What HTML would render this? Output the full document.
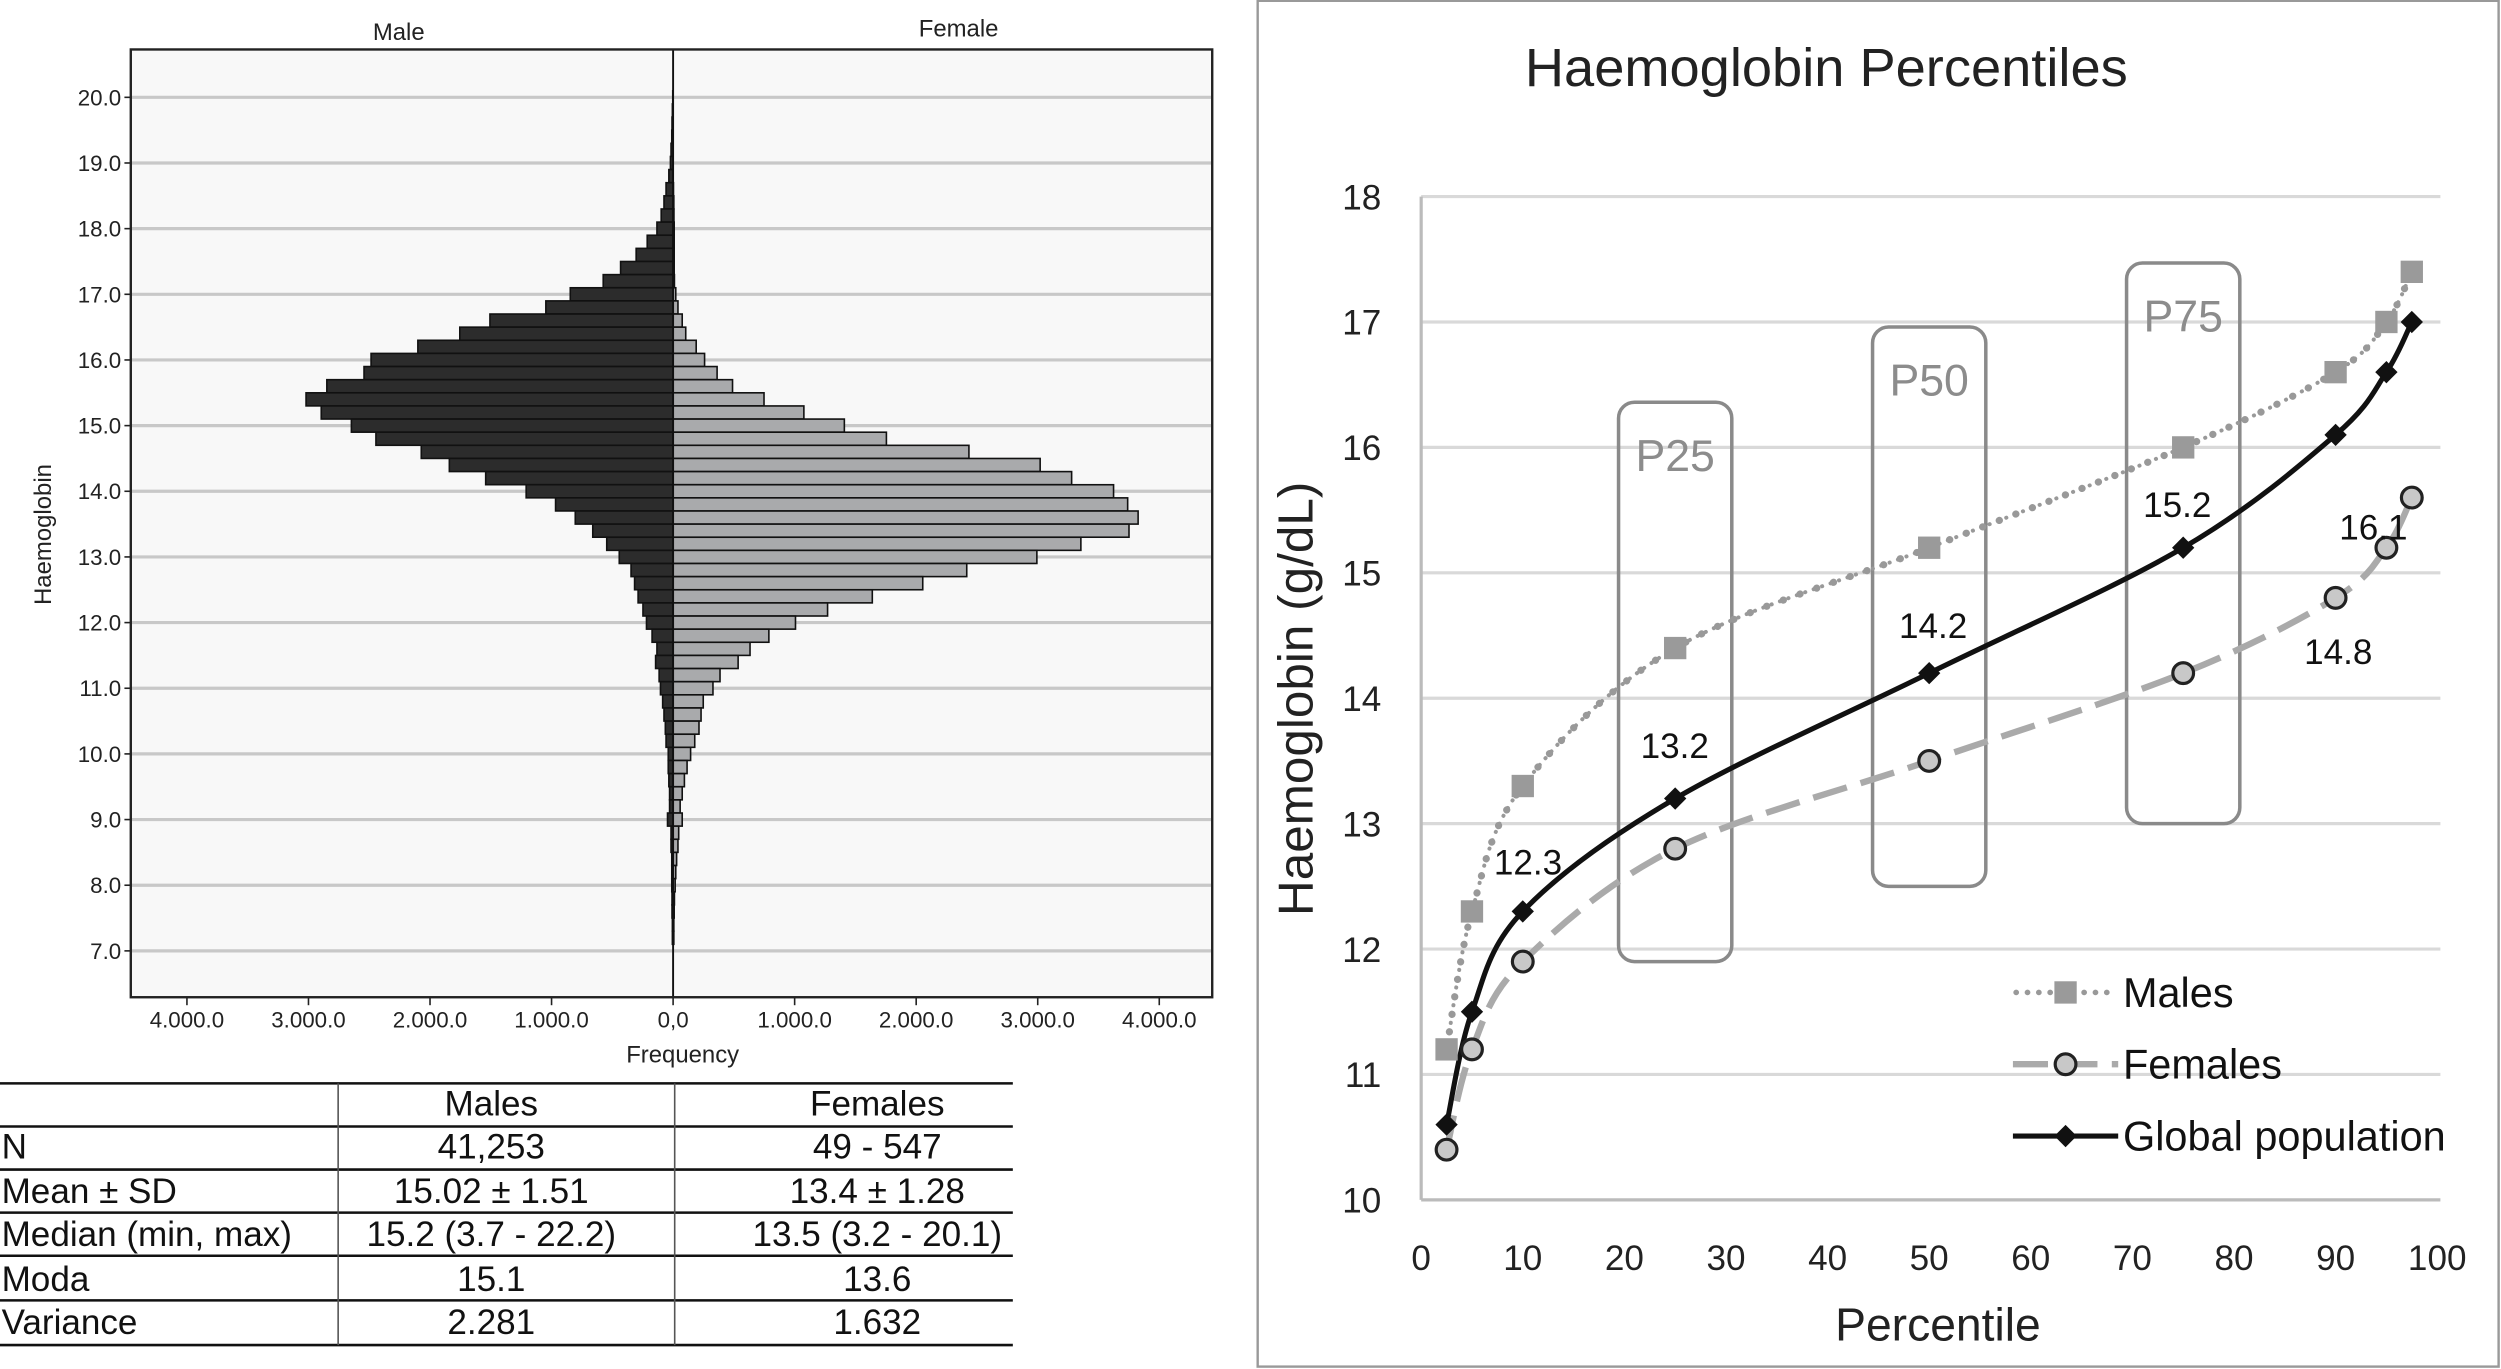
<!DOCTYPE html>
<html><head><meta charset="utf-8"><style>
html,body{margin:0;padding:0;background:#fff;}
svg{display:block;font-family:"Liberation Sans",sans-serif;}
</style></head><body>
<svg id="s" width="2501" height="1369" viewBox="0 0 1568 858" preserveAspectRatio="none">
<rect x="0" y="0" width="1568" height="858" fill="#fff"/>
<g id="left"></g>
<g id="table"></g>
<g id="right"></g>
</svg>
<script>
// ---------- Pyramid data ----------
const binValues = [20.0,19.8,19.6,19.4,19.2,19.0,18.8,18.6,18.4,18.2,18.0,17.8,17.6,17.4,17.2,17.0,16.8,16.6,16.4,16.2,16.0,15.8,15.6,15.4,15.2,15.0,14.8,14.6,14.4,14.2,14.0,13.8,13.6,13.4,13.2,13.0,12.8,12.6,12.4,12.2,12.0,11.8,11.6,11.4,11.2,11.0,10.8,10.6,10.4,10.2,10.0,9.8,9.6,9.4,9.2,9.0,8.8,8.6,8.4,8.2,8.0,7.8,7.6,7.4,7.2];
const maleFreq = [3,6,9,11,17,22,35,58,75,98,133,213,304,432,575,846,1047,1507,1755,2100,2485,2543,2849,3020,2895,2647,2445,2072,1841,1542,1209,967,805,661,546,443,346,317,288,248,219,173,133,144,115,104,86,75,64,58,40,40,35,29,29,46,17,17,11,11,11,9,9,6,6];
const femaleFreq = [0,0,0,0,0,0,0,3,6,7,9,9,9,9,11,22,40,75,104,190,259,362,489,748,1076,1409,1755,2434,3020,3279,3624,3740,3826,3751,3355,2993,2416,2054,1639,1271,1007,788,633,535,386,328,248,230,213,178,144,115,93,75,58,75,46,40,29,22,17,11,9,6,6];
const yTicks = [20,19,18,17,16,15,14,13,12,11,10,9,8,7];
const xTickLabels = ["4.000.0","3.000.0","2.000.0","1.000.0","0,0","1.000.0","2.000.0","3.000.0","4.000.0"];
const xTickVals = [-4000,-3000,-2000,-1000,0,1000,2000,3000,4000];

// ---------- Percentile data ----------
const pct = [2.5,5,10,25,50,75,90,95,97.5];
const males = [11.2,12.3,13.3,14.4,15.2,16.0,16.6,17.0,17.4];
const females = [10.4,11.2,11.9,12.8,13.5,14.2,14.8,15.2,15.6];
const globalPop = [10.6,11.5,12.3,13.2,14.2,15.2,16.1,16.6,17.0];
const pTicksY = [10,11,12,13,14,15,16,17,18];
const pTicksX = [0,10,20,30,40,50,60,70,80,90,100];
const valueLabels = ["12.3","13.2","14.2","15.2","16.1","14.8"];

const NS="http://www.w3.org/2000/svg";
function mk(parent,tag,attrs,text){const e=document.createElementNS(NS,tag);for(const k in attrs)e.setAttribute(k,attrs[k]);if(text!==undefined)e.textContent=text;parent.appendChild(e);return e;}

// ----- pyramid -----
const L=document.getElementById('left');
const px0=82,px1=760,pcx=422,py0=31,py1=625;
const fx=v=>pcx+v*0.0762;
const fy=v=>61+(20-v)*41.15;
let e=mk(L,'rect',{x:px0,y:py0,width:px1-px0,height:py1-py0,fill:'#f8f8f8',stroke:'none'});

yTicks.forEach(t=>{
  let g=mk(L,'line',{x1:px0,x2:px1,y1:fy(t),y2:fy(t),stroke:'#c8c8c8','stroke-width':2});
  
  mk(L,'line',{x1:px0-4,x2:px0,y1:fy(t),y2:fy(t),stroke:'#222','stroke-width':1});
  let lb=mk(L,'text',{x:px0-6,y:fy(t)+5,'text-anchor':'end','font-size':14,fill:'#222'},t.toFixed(1));
  
});
binValues.forEach((v,i)=>{
  const y=fy(v)-4.1;
  if(maleFreq[i]>0){let b=mk(L,'rect',{x:fx(-maleFreq[i]),y:y,width:pcx-fx(-maleFreq[i]),height:8.2,fill:'#2c2c2c',stroke:'#111','stroke-width':1});
  }
  if(femaleFreq[i]>0){let b=mk(L,'rect',{x:pcx,y:y,width:fx(femaleFreq[i])-pcx,height:8.2,fill:'#a9aaac',stroke:'#111','stroke-width':1});
  }
});
mk(L,'line',{x1:pcx,x2:pcx,y1:py0,y2:py1,stroke:'#111','stroke-width':1.2});
mk(L,'rect',{x:px0,y:py0,width:px1-px0,height:py1-py0,fill:'none',stroke:'#222','stroke-width':1.5});
xTickVals.forEach((v,i)=>{
  let x=fx(v);
  mk(L,'line',{x1:x,x2:x,y1:py1,y2:py1+5,stroke:'#222'});
  let lb=mk(L,'text',{x:x,y:644,'text-anchor':'middle','font-size':14,fill:'#222'},xTickLabels[i]);
  
});
e=mk(L,'text',{x:250,y:25,'text-anchor':'middle','font-size':15,fill:'#222'},'Male');
e=mk(L,'text',{x:601,y:23,'text-anchor':'middle','font-size':15,fill:'#222'},'Female');
e=mk(L,'text',{x:428,y:666,'text-anchor':'middle','font-size':15,fill:'#222'},'Frequency');
e=mk(L,'text',{x:0,y:0,'text-anchor':'middle','font-size':15,fill:'#222',transform:'translate(32,335) rotate(-90)'},'Haemoglobin');

// ----- table -----
const T=document.getElementById('table');
const rowLines=[679,706,733,760,787,815,843];
rowLines.forEach(y=>{mk(T,'line',{x1:0,x2:635,y1:y,y2:y,stroke:'#111','stroke-width':1.6});});
mk(T,'line',{x1:212,x2:212,y1:679,y2:843,stroke:'#555','stroke-width':1});
mk(T,'line',{x1:423,x2:423,y1:679,y2:843,stroke:'#555','stroke-width':1});
const rows=[["","Males","Females"],["N","41,253","49 - 547"],["Mean ± SD","15.02 ± 1.51","13.4 ± 1.28"],["Median (min, max)","15.2 (3.7 - 22.2)","13.5 (3.2 - 20.1)"],["Moda","15.1","13.6"],["Variance","2.281","1.632"]];
const rowY=[699,726,754,781,809,836];
rows.forEach((r,i)=>{
  e=mk(T,'text',{x:1,y:rowY[i],'font-size':22,fill:'#111'},r[0]);
  e=mk(T,'text',{x:308,y:rowY[i],'text-anchor':'middle','font-size':22,fill:'#111'},r[1]);
  e=mk(T,'text',{x:550,y:rowY[i],'text-anchor':'middle','font-size':22,fill:'#111'},r[2]);
});

// ----- percentile chart -----
const R=document.getElementById('right');
mk(R,'rect',{x:788.5,y:0.5,width:778,height:856,fill:'#fff',stroke:'#999','stroke-width':1.5});
const gx=p=>891+p*6.37;
const gy=v=>752-(v-10)*78.6;
e=mk(R,'text',{x:1145,y:54,'text-anchor':'middle','font-size':34,fill:'#222'},'Haemoglobin Percentiles');
pTicksY.forEach(t=>{
  if(t>10){let g=mk(R,'line',{x1:891,x2:1530,y1:gy(t),y2:gy(t),stroke:'#d9d9d9','stroke-width':2});}
  let lb=mk(R,'text',{x:866,y:gy(t)+8,'text-anchor':'end','font-size':22,fill:'#222'},String(t));
});
mk(R,'line',{x1:891,x2:891,y1:gy(18),y2:gy(10),stroke:'#bbb','stroke-width':2});
mk(R,'line',{x1:891,x2:1530,y1:gy(10),y2:gy(10),stroke:'#bbb','stroke-width':2});
pTicksX.forEach(t=>{
  let lb=mk(R,'text',{x:gx(t),y:796,'text-anchor':'middle','font-size':22,fill:'#222'},String(t));
});
e=mk(R,'text',{x:1215,y:840,'text-anchor':'middle','font-size':29,fill:'#222'},'Percentile');
e=mk(R,'text',{x:0,y:0,'text-anchor':'middle','font-size':31,fill:'#222',transform:'translate(823,438) rotate(-90)'},'Haemoglobin (g/dL)');

// P boxes
[[25,"P25",16.36,11.9],[50,"P50",16.96,12.5],[75,"P75",17.47,13.0]].forEach(b=>{
  const cx=gx(b[0]);
  let r=mk(R,'rect',{x:cx-35.5,y:gy(b[2]),width:71,height:gy(b[3])-gy(b[2]),rx:10,fill:'none',stroke:'#8a8a8a','stroke-width':2.2});
  
  let t=mk(R,'text',{x:cx,y:gy(b[2])+43,'text-anchor':'middle','font-size':28,fill:'#8c8c8c'},b[1]);
  
});

function smooth(xs,ys){
  const P=xs.map((p,i)=>[gx(p),gy(ys[i])]);
  let d=`M${P[0][0]},${P[0][1]}`;
  for(let i=0;i<P.length-1;i++){
    const p0=P[Math.max(i-1,0)],p1=P[i],p2=P[i+1],p3=P[Math.min(i+2,P.length-1)];
    const c1=[p1[0]+(p2[0]-p0[0])/6,p1[1]+(p2[1]-p0[1])/6];
    const c2=[p2[0]-(p3[0]-p1[0])/6,p2[1]-(p3[1]-p1[1])/6];
    d+=` C${c1[0]},${c1[1]} ${c2[0]},${c2[1]} ${p2[0]},${p2[1]}`;
  }
  return d;
}
e=mk(R,'path',{d:smooth(pct,males),fill:'none',stroke:'#999','stroke-width':4.5,'stroke-dasharray':'0.1 11','stroke-linecap':'round'});
e=mk(R,'path',{d:smooth(pct,males),fill:'none',stroke:'#999','stroke-width':2.5,'stroke-dasharray':'0.1 5.5','stroke-linecap':'round'});
e=mk(R,'path',{d:smooth(pct,females),fill:'none',stroke:'#aaa','stroke-width':4,'stroke-dasharray':'22 9'});
e=mk(R,'path',{d:smooth(pct,globalPop),fill:'none',stroke:'#111','stroke-width':3.2});
pct.forEach((p,i)=>{
  let m=mk(R,'rect',{x:gx(p)-7,y:gy(males[i])-7,width:14,height:14,fill:'#9a9a9a'});
  let f=mk(R,'circle',{cx:gx(p),cy:gy(females[i]),r:6.5,fill:'#c8c8c8',stroke:'#222','stroke-width':2});
  const x=gx(p),y=gy(globalPop[i]);
  let g=mk(R,'path',{d:`M${x},${y-7}L${x+7},${y}L${x},${y+7}L${x-7},${y}Z`,fill:'#111'});
});
const vlPos=[[958,548],[1050,475],[1212,400],[1365,324],[1488,338],[1466,416]];
valueLabels.forEach((v,i)=>{
  let t=mk(R,'text',{x:vlPos[i][0],y:vlPos[i][1],'text-anchor':'middle','font-size':22,fill:'#111'},v);
  
});
// legend
const lg=mk(R,'g',{});
const ly=[622,667,712];
mk(lg,'line',{x1:1264,x2:1326,y1:ly[0],y2:ly[0],stroke:'#999','stroke-width':3.5,'stroke-dasharray':'0.1 7','stroke-linecap':'round'});
mk(lg,'rect',{x:1288,y:ly[0]-7,width:14,height:14,fill:'#9a9a9a'});
mk(lg,'line',{x1:1262,x2:1328,y1:ly[1],y2:ly[1],stroke:'#aaa','stroke-width':4,'stroke-dasharray':'22 9'});
mk(lg,'circle',{cx:1295,cy:ly[1],r:6.5,fill:'#c8c8c8',stroke:'#222','stroke-width':2});
mk(lg,'line',{x1:1262,x2:1328,y1:ly[2],y2:ly[2],stroke:'#111','stroke-width':3.2});
mk(lg,'path',{d:`M1295,${ly[2]-7}L1302,${ly[2]}L1295,${ly[2]+7}L1288,${ly[2]}Z`,fill:'#111'});
["Males","Females","Global population"].forEach((s,i)=>{
  let t=mk(lg,'text',{x:1331,y:ly[i]+9,'font-size':26,fill:'#111'},s);
  
});
</script>
</body></html>
